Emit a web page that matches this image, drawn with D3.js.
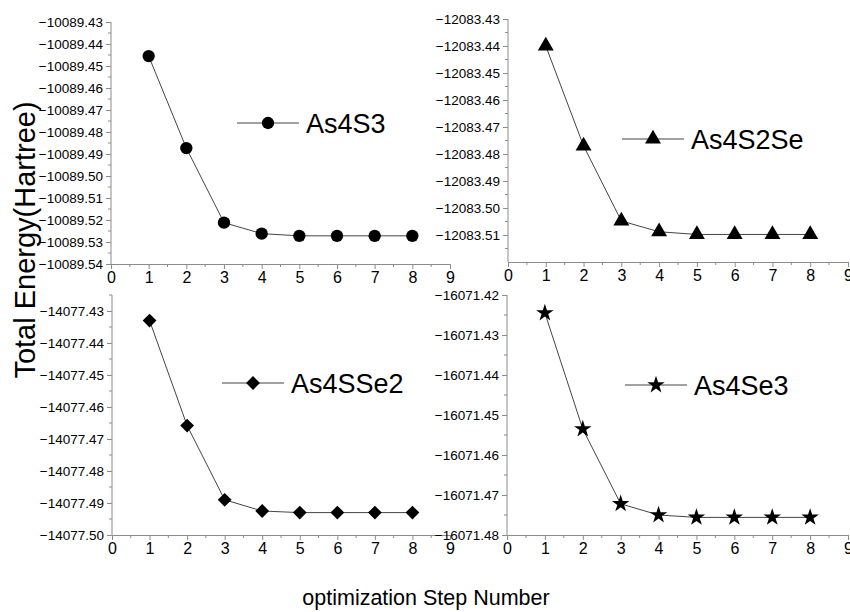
<!DOCTYPE html>
<html>
<head>
<meta charset="utf-8">
<script src="https://cdn.jsdelivr.net/npm/d3@7"></script>
<style>
  body { margin: 0; background: #fff; }
  svg { font-family: Arial, "Liberation Sans", sans-serif; }
</style>
</head>
<body>
<div class="chart"></div>
<script>
// optimization steps
var steps = [1, 2, 3, 4, 5, 6, 7, 8];
var xTicks = [0, 1, 2, 3, 4, 5, 6, 7, 8, 9];

// total energies (Hartree) per molecule
var as4s3 = [-10089.4455, -10089.4873, -10089.5212, -10089.5262, -10089.5272, -10089.5272, -10089.5272, -10089.5272];
var as4s2se = [-12083.4400, -12083.4770, -12083.5048, -12083.5088, -12083.5098, -12083.5098, -12083.5098, -12083.5098];
var as4sse2 = [-14077.4330, -14077.4658, -14077.4890, -14077.4925, -14077.4930, -14077.4930, -14077.4930, -14077.4930];
var as4se3 = [-16071.4245, -16071.4535, -16071.4722, -16071.4750, -16071.4756, -16071.4756, -16071.4756, -16071.4756];

var names = ["As4S3", "As4S2Se", "As4SSe2", "As4Se3"];

var width = 850, height = 612;

var svg = d3.select(".chart").append("svg")
  .attr("width", width)
  .attr("height", height);

// panel frames
var panels = [
  {name: names[0], values: as4s3, marker: "circle", left: 111, right: 450, top: 22, bottom: 264,
   ymin: -10089.54, ymax: -10089.43, lx: 237, ly: 123},
  {name: names[1], values: as4s2se, marker: "triangle", left: 508, right: 848, top: 19, bottom: 262,
   ymin: -12083.52, ymax: -12083.43, lx: 622, ly: 139, skipBottom: true},
  {name: names[2], values: as4sse2, marker: "diamond", left: 112, right: 450, top: 295, bottom: 535,
   ymin: -14077.50, ymax: -14077.425, lx: 222, ly: 383},
  {name: names[3], values: as4se3, marker: "star", left: 507, right: 848, top: 295, bottom: 535,
   ymin: -16071.48, ymax: -16071.42, lx: 625, ly: 385}
];

var symbols = {
  circle: d3.symbol().type(d3.symbolCircle).size(120),
  triangle: d3.symbol().type(d3.symbolTriangle).size(110),
  diamond: d3.symbol().type(d3.symbolSquare).size(95),
  star: d3.symbol().type(d3.symbolStar).size(95)
};

var axisColor = "#8c8c8c";
var fmt = d3.format(".2f");

panels.forEach(function(p) {
  var x = d3.scaleLinear().domain([0, 9]).range([p.left, p.right]);
  var y = d3.scaleLinear().domain([p.ymin, p.ymax]).range([p.bottom, p.top]);

  var g = svg.append("g");

  // y axis: labelled ticks every 0.01, minor ticks in between
  var lo = Math.ceil(Math.round(p.ymin * 1000) / 10);
  var hi = Math.floor(Math.round(p.ymax * 1000) / 10);
  var majors = d3.range(lo, hi + 1).map(v => v / 100);
  var minors = majors.map(d => d + 0.005).filter(d => d <= p.ymax + 1e-9);

  var labelTicks = p.skipBottom ? majors.slice(1) : majors;

  var yAxis = d3.axisLeft(y)
    .tickValues(labelTicks)
    .tickFormat(fmt)
    .tickSize(5)
    .tickSizeOuter(0);

  var ya = g.append("g")
    .attr("transform", "translate(" + p.left + ",0)")
    .call(yAxis);
  ya.select(".domain").attr("stroke", axisColor).attr("d", "M0," + p.top + "V" + p.bottom);
  ya.selectAll(".tick line").attr("stroke", axisColor);
  ya.selectAll(".tick text").attr("fill", "#000").style("font-size", "13.5px").attr("x", -8);

  g.append("g").selectAll("line")
    .data(minors)
    .enter().append("line")
    .attr("x1", p.left - 3).attr("x2", p.left)
    .attr("y1", d => y(d)).attr("y2", d => y(d))
    .attr("stroke", axisColor);

  // x axis
  var xAxis = d3.axisBottom(x)
    .tickValues(xTicks)
    .tickFormat(d3.format("d"))
    .tickSize(5)
    .tickSizeOuter(0);

  var xa = g.append("g")
    .attr("transform", "translate(0," + p.bottom + ")")
    .call(xAxis);
  xa.select(".domain").attr("stroke", axisColor);
  xa.selectAll(".tick line").attr("stroke", axisColor);
  xa.selectAll(".tick text").attr("fill", "#000").style("font-size", "16px").attr("y", 8);

  g.append("g").selectAll("line")
    .data(d3.range(0.5, 9, 1))
    .enter().append("line")
    .attr("x1", d => x(d)).attr("x2", d => x(d))
    .attr("y1", p.bottom).attr("y2", p.bottom + 3)
    .attr("stroke", axisColor);

  // data line
  var line = d3.line()
    .x((d, i) => x(steps[i]))
    .y(d => y(d));

  g.append("path")
    .datum(p.values)
    .attr("d", line)
    .attr("fill", "none")
    .attr("stroke", "#444")
    .attr("stroke-width", 1);

  g.append("g").selectAll("path")
    .data(p.values)
    .enter().append("path")
    .attr("d", symbols[p.marker])
    .attr("transform", (d, i) => "translate(" + x(steps[i]) + "," + y(d) + ")" + (p.marker === "diamond" ? " rotate(45)" : ""))
    .attr("fill", "#000");

  // legend
  var leg = g.append("g").attr("transform", "translate(" + p.lx + "," + p.ly + ")");
  leg.append("line")
    .attr("x1", 0).attr("x2", 62)
    .attr("y1", 0).attr("y2", 0)
    .attr("stroke", "#444");
  leg.append("path")
    .attr("d", symbols[p.marker])
    .attr("transform", "translate(31,0)" + (p.marker === "diamond" ? " rotate(45)" : ""))
    .attr("fill", "#000");
  leg.append("text")
    .attr("x", 69)
    .attr("y", 10)
    .style("font-size", "27px")
    .text(p.name);
});

// axis titles
svg.append("text")
  .attr("transform", "translate(35,240) rotate(-90)")
  .attr("text-anchor", "middle")
  .style("font-size", "29px")
  .text("Total Energy(Hartree)");

svg.append("text")
  .attr("x", 426)
  .attr("y", 605)
  .attr("text-anchor", "middle")
  .style("font-size", "21.5px")
  .text("optimization Step Number");
</script>
</body>
</html>
